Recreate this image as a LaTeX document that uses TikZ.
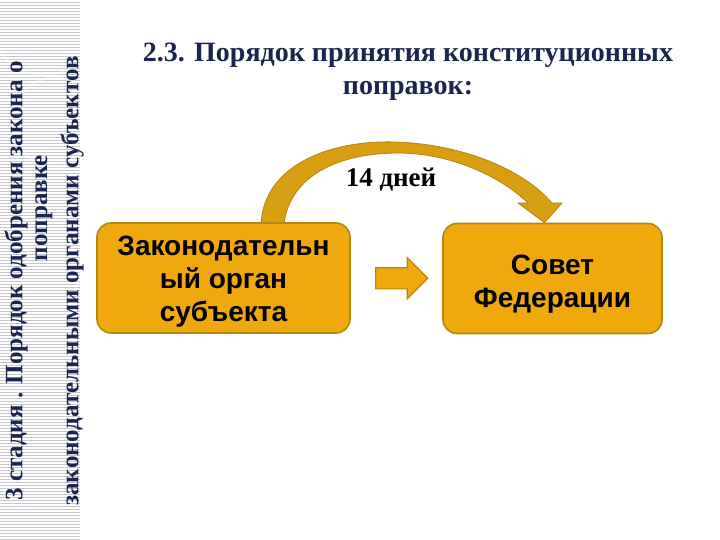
\documentclass[tikz,border=0pt]{standalone}
\usepackage{fontspec}
\setmainfont{Liberation Serif}
\setsansfont{Liberation Sans}
\usetikzlibrary{shapes.arrows,calc,backgrounds}
\definecolor{slideink}{HTML}{1A2650}
\definecolor{boxfill}{HTML}{F0A90C}
\definecolor{boxedge}{HTML}{B58610}
\definecolor{arcfill}{HTML}{D89E12}
\definecolor{stripgray}{HTML}{C6C6CB}

\begin{document}
\begin{tikzpicture}[x=1pt, y=-1pt,
                    every node/.style={inner sep=0pt},
                    stagetext/.style={slideink, rotate=90,
                      font=\fontsize{25}{28}\selectfont\bfseries},
                    titletext/.style={slideink, align=center,
                      font=\fontsize{28}{33}\selectfont\bfseries},
                    organbox/.style={draw=boxedge, line width=1.6pt, fill=boxfill,
                      rounded corners=14pt, align=center, minimum height=110pt,
                      font=\sffamily\bfseries\fontsize{28}{33}\selectfont}]

  \useasboundingbox (0,0) rectangle (720,540);

  %% ---- left strip: striped grey band ----
  \fill[stripgray] (0,0) rectangle (80,540);
  \foreach \sy in {1,4,...,540}
    \draw[white, line width=1.1pt] (0,\sy) -- (80,\sy);
  \begin{scope}
    \clip (0,0) rectangle (80,540);
    \draw[white, line width=2.5pt, opacity=0.35] (45,20) circle (55pt);
    \draw[white, line width=2.5pt, opacity=0.35] (57,122) circle (45pt);
  \end{scope}

  %% ---- rotated caption of the stage ----
  \node[stagetext] (stage1) at (16,281) {3 стадия . Порядок одобрения закона о};
  \node[stagetext] (stage2) at (44,208) {поправке};
  \node[stagetext] (stage3) at (72,281) {законодательными органами субъектов};

  %% ---- title ----
  \node[titletext] (title) at (408,72) {2.3. Порядок принятия конституционных\\поправок:};

  %% ---- the two bodies ----
  \node[organbox, minimum width=253pt] (organ) at (223.5,278)
    {\rule{0pt}{27pt}Законодательн\\ый орган\\субъекта};
  \node[organbox, minimum width=219pt] (sovet) at (552.5,278.5)
    {\rule{0pt}{31pt}Совет\\Федерации};

  %% ---- straight block arrow between the boxes ----
  \node[single arrow, draw=boxedge, fill=boxfill, line width=1.2pt,
        minimum height=52pt, single arrow head extend=10pt,
        inner ysep=10pt, inner xsep=0pt]
    (handover) at ($(organ.east)!0.5!(sovet.west)$) {};

  %% ---- curved arrow: 14 days ----
  \coordinate (arcbase) at ([xshift=165pt]organ.north west);
  \coordinate (arctip) at ([xshift=-8pt]sovet.north);
  \begin{pgfonlayer}{background}
    \fill[arcfill, draw=boxedge, line width=0.8pt]
      (arcbase) .. controls (265,165) and (330,140) .. (395,142)
      .. controls (460,144) and (522,168) .. (552,203)
      -- (562,203) -- (arctip) -- (518,203) -- (528,203)
      .. controls (500,176) and (450,153) .. (398,153)
      .. controls (340,153) and (290,175) .. (284,224) -- cycle;
  \end{pgfonlayer}
  \node[font=\fontsize{27}{30}\selectfont\bfseries] (days) at (391,180) {14 дней};

\end{tikzpicture}
\end{document}
